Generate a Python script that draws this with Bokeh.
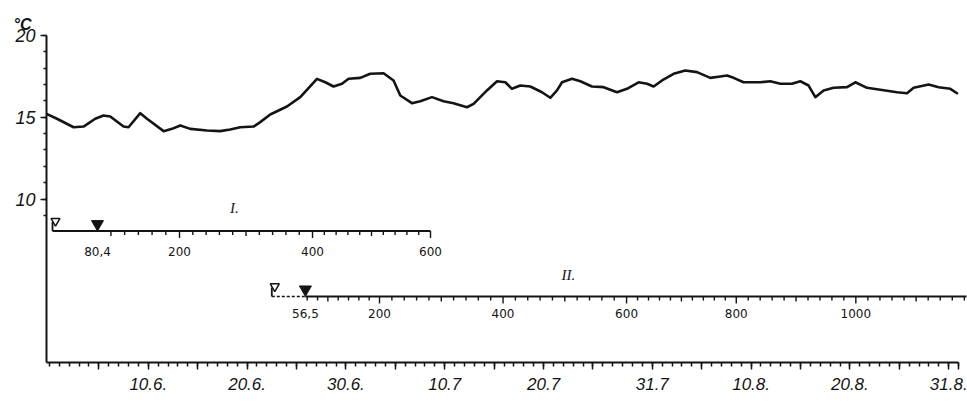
import numpy as np
from bokeh.plotting import figure
from bokeh.models import Range1d, FixedTicker, Title
from bokeh.core.properties import value
from bokeh.embed import file_html
from bokeh.resources import INLINE

# ---------------- data ----------------
# temperature curve: day index (0 = 1 June) and temperature in °C
days = [-1.3, -0.24, 1.44, 2.45, 3.63, 4.47, 5.15, 6.50, 7.00, 8.19, 8.87, 10.55,
        11.40, 12.24, 13.25, 14.94, 16.28, 17.29, 18.31, 19.65, 20.33, 21.34, 23.03,
        24.38, 26.07, 26.91, 27.75, 28.60, 29.27, 30.45, 31.46, 32.81, 33.82, 34.50,
        35.68, 36.52, 37.71, 38.88, 39.89, 41.25, 41.92, 43.27, 44.29, 45.13, 45.80,
        46.65, 47.66, 48.84, 49.68, 50.36, 50.87, 51.88, 52.72, 53.90, 55.08, 56.43,
        57.44, 58.62, 59.47, 60.14, 60.99, 62.16, 63.34, 64.53, 65.87, 66.89, 67.56,
        68.23, 69.24, 70.93, 71.94, 72.96, 74.14, 74.98, 75.82, 76.50, 77.34, 78.35,
        79.71, 80.55, 81.73, 83.08, 84.77, 85.78, 86.45, 87.97, 88.98, 90.16, 90.84]
temp = [15.21, 14.91, 14.39, 14.43, 14.91, 15.11, 15.05, 14.43, 14.39, 15.25, 14.91, 14.15,
        14.29, 14.50, 14.29, 14.19, 14.15, 14.25, 14.39, 14.43, 14.70, 15.17, 15.66,
        16.23, 17.35, 17.14, 16.88, 17.05, 17.35, 17.41, 17.66, 17.69, 17.25, 16.33,
        15.86, 15.98, 16.23, 15.98, 15.86, 15.61, 15.82, 16.64, 17.20, 17.14, 16.74,
        16.94, 16.88, 16.53, 16.19, 16.64, 17.14, 17.35, 17.20, 16.88, 16.84, 16.53,
        16.74, 17.14, 17.05, 16.88, 17.25, 17.66, 17.86, 17.76, 17.41, 17.49, 17.55,
        17.41, 17.14, 17.14, 17.20, 17.05, 17.05, 17.20, 16.94, 16.23, 16.64, 16.80,
        16.84, 17.14, 16.80, 16.68, 16.53, 16.47, 16.80, 17.00, 16.84, 16.74, 16.47]

# date axis (day index, 0 = 1 June)
pentad_days = [4, 9, 14, 19, 24, 29, 34, 39, 44, 49, 54, 60, 65, 70, 75, 80, 85, 90, 91]
label_days = [9, 19, 29, 39, 49, 60, 70, 80, 90]
date_labels = ["10.6.", "20.6.", "30.6.", "10.7", "20.7", "31.7", "10.8.", "20.8.", "31.8."]

# temperature axis
y_major = [10, 15, 20]
y_minor = list(range(9, 21))

# scale I: sum values and the day on which each is reached
s1_vals = [0, 80.4, 200, 400, 600]
s1_days = [-0.69, 3.86, 12.16, 25.62, 37.56]
s1_mark = 80.4
s1_label_vals = [80.4, 200, 400, 600]
s1_labels = ["80,4", "200", "400", "600"]
s1_ticks = list(range(100, 601, 20))

# scale II
s2_vals = [0, 56.5, 200, 400, 600, 800, 1000, 1200]
s2_days = [21.5, 24.9, 32.4, 44.9, 57.4, 68.5, 80.6, 92.8]
s2_mark = 56.5
s2_label_vals = [56.5, 200, 400, 600, 800, 1000]
s2_labels = ["56,5", "200", "400", "600", "800", "1000"]
s2_ticks = list(range(60, 1181, 20))

# ---------------- figure ----------------
p = figure(width=967, height=405, output_backend="svg", toolbar_location=None,
           x_range=Range1d(-1.3, 91.9), y_range=Range1d(0, 20),
           min_border_left=46, min_border_right=0, min_border_top=35, min_border_bottom=43)
p.outline_line_color = None
p.grid.visible = False
p.background_fill_color = "white"
p.border_fill_color = "white"

INK = "#141414"

# unit label above the temperature axis
p.add_layout(Title(text="°C", align="left", offset=-33, standoff=6,
                   text_font="Liberation Sans", text_font_style="bold italic",
                   text_font_size="16px", text_color=INK), "above")

# x axis
xa = p.xaxis[0]
xa.bounds = (-1.3, 91)
xa.ticker = FixedTicker(ticks=pentad_days, minor_ticks=list(range(-1, 92)))
overrides = {d: "" for d in pentad_days}
for d, t in zip(label_days, date_labels):
    overrides[d] = t
xa.major_label_overrides = overrides
xa.axis_line_width = 2
xa.axis_line_color = INK
xa.major_tick_out = 7
xa.major_tick_in = 0
xa.minor_tick_out = 4
xa.minor_tick_in = 0
xa.major_tick_line_width = 1.5
xa.minor_tick_line_width = 1.5
xa.major_tick_line_color = INK
xa.minor_tick_line_color = INK
xa.major_label_standoff = 8
xa.major_label_text_font = "Liberation Sans"
xa.major_label_text_font_style = "italic"
xa.major_label_text_font_size = "17px"
xa.major_label_text_color = INK

# y axis
ya = p.yaxis[0]
ya.ticker = FixedTicker(ticks=y_major, minor_ticks=y_minor)
ya.axis_line_width = 2
ya.axis_line_color = INK
ya.major_tick_out = 6
ya.major_tick_in = 0
ya.minor_tick_out = 3
ya.minor_tick_in = 0
ya.major_tick_line_width = 1.5
ya.minor_tick_line_width = 1.5
ya.major_tick_line_color = INK
ya.minor_tick_line_color = INK
ya.major_label_standoff = 5
ya.major_label_text_font = "Liberation Sans"
ya.major_label_text_font_style = "italic"
ya.major_label_text_font_size = "18px"
ya.major_label_text_color = INK

# temperature curve
p.line(days, temp, line_width=2.6, line_color=INK, line_join="round", line_cap="round")

PX = 1 / 16.35  # one pixel in temperature units


def draw_scale(vals, sdays, mark, label_vals, labels, ticks, y_line, y_lab, x_end, dashed_start):
    start = np.interp(0, vals, sdays)
    xm = np.interp(mark, vals, sdays)
    # start marker (open) with stem
    p.segment(x0=[start], y0=[y_line], x1=[start], y1=[y_line + 9 * PX], line_width=1.8, line_color=INK)
    p.scatter([start + 0.3], [y_line + 10 * PX], marker="inverted_triangle", size=9,
              fill_color="white", line_color=INK, line_width=1.5)
    # base line
    if dashed_start:
        p.segment(x0=[start], y0=[y_line], x1=[xm], y1=[y_line], line_width=1.5,
                  line_color=INK, line_dash="3 2")
        p.segment(x0=[xm], y0=[y_line], x1=[x_end], y1=[y_line], line_width=2, line_color=INK)
    else:
        p.segment(x0=[start], y0=[y_line], x1=[x_end], y1=[y_line], line_width=2, line_color=INK)
    # filled marker
    p.scatter([xm], [y_line + 7 * PX], marker="inverted_triangle", size=12,
              fill_color=INK, line_color=INK)
    # ticks
    tx = np.interp(ticks, vals, sdays)
    tl = [(7 if t % 200 == 0 else (5 if t % 100 == 0 else 4)) * PX for t in ticks]
    p.segment(x0=tx, y0=[y_line] * len(tx), x1=tx, y1=[y_line - l for l in tl],
              line_width=1.4, line_color=INK)
    # labels
    lx = np.interp(label_vals, vals, sdays)
    p.text(x=lx, y=[y_lab] * len(lx), text=labels, text_font=value("DejaVu Sans"),
           text_font_size="12px", text_align="center", text_baseline="middle", text_color=INK)


draw_scale(s1_vals, s1_days, s1_mark, s1_label_vals, s1_labels, s1_ticks,
           8.04, 6.79, np.interp(600, s1_vals, s1_days), False)
draw_scale(s2_vals, s2_days, s2_mark, s2_label_vals, s2_labels, s2_ticks,
           4.04, 3.0, 91.8, True)

# scale names
p.text(x=[17.7, 51.5], y=[9.42, 5.38], text=["I.", "II."], text_font=value("Liberation Serif"),
       text_font_style="italic", text_font_size="15px", text_align="center",
       text_baseline="middle", text_color=INK)

open("out.html", "w").write(file_html(p, INLINE))
